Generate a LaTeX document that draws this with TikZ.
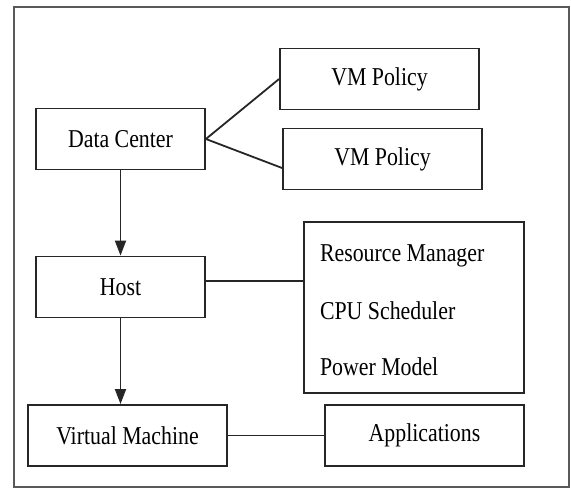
\documentclass[tikz,border=0pt]{standalone}
\usepackage{fontspec}
\setmainfont{Liberation Serif}[FakeStretch=0.85]
\usepackage{xcolor}
\usetikzlibrary{calc,shapes.multipart,arrows.meta}

\newcommand{\partline}[1]{\makebox[188pt][l]{\rule[-4pt]{0pt}{30pt}#1}}

\begin{document}
\begin{tikzpicture}[x=1pt,y=-1pt,
  box/.style={rectangle,draw=black!85,line width=1.8pt,minimum width=#1,minimum height=61pt,inner sep=0pt,font=\fontsize{25.7}{30}\selectfont},
  box/.default=199pt,
  stack/.style={rectangle split, rectangle split parts=#1,rectangle split draw splits=false,draw=black!85,line width=1.8pt,
    inner xsep=16pt,inner ysep=12.3pt,font=\fontsize{25.7}{30}\selectfont},
  link/.style={draw=black!85,line width=1.8pt},
  flow/.style={link,-{Triangle[length=15pt,width=11pt]}}]
\useasboundingbox (0,0) rectangle (571,489);
\draw[black!65,line width=1.8pt] (14,7) rectangle (569,487);

\node[box=169pt] (dc) at (120.5,139) {Data Center};
\node[box] (pol1) at (379.5,79) {VM Policy};
\node[box] (pol2) at (382.5,159) {VM Policy};
\node[box=169pt] (host) at (120.5,287) {Host};
\node[stack=3] (res) at (414,307.5) {
\nodepart{one}\partline{Resource Manager}
\nodepart{two}\partline{CPU Scheduler}
\nodepart{three}\partline{Power Model}
};
\node[box] (vm) at (127.5,435.5) {Virtual Machine};
\node[box] (app) at (424.5,435.5) {Applications};

\draw[link] (pol1.west) -- (dc.east) -- ([yshift=-9pt]pol2.west);
\coordinate (h) at ([yshift=6pt]host.east);
\draw[link] (h) -- (h -| res.west);
\draw[link] (vm.east) -- (app.west);
\draw[flow] (dc.south) -- (host.north);
\draw[flow] (host.south) -- (host.south |- vm.north);
\end{tikzpicture}
\end{document}
